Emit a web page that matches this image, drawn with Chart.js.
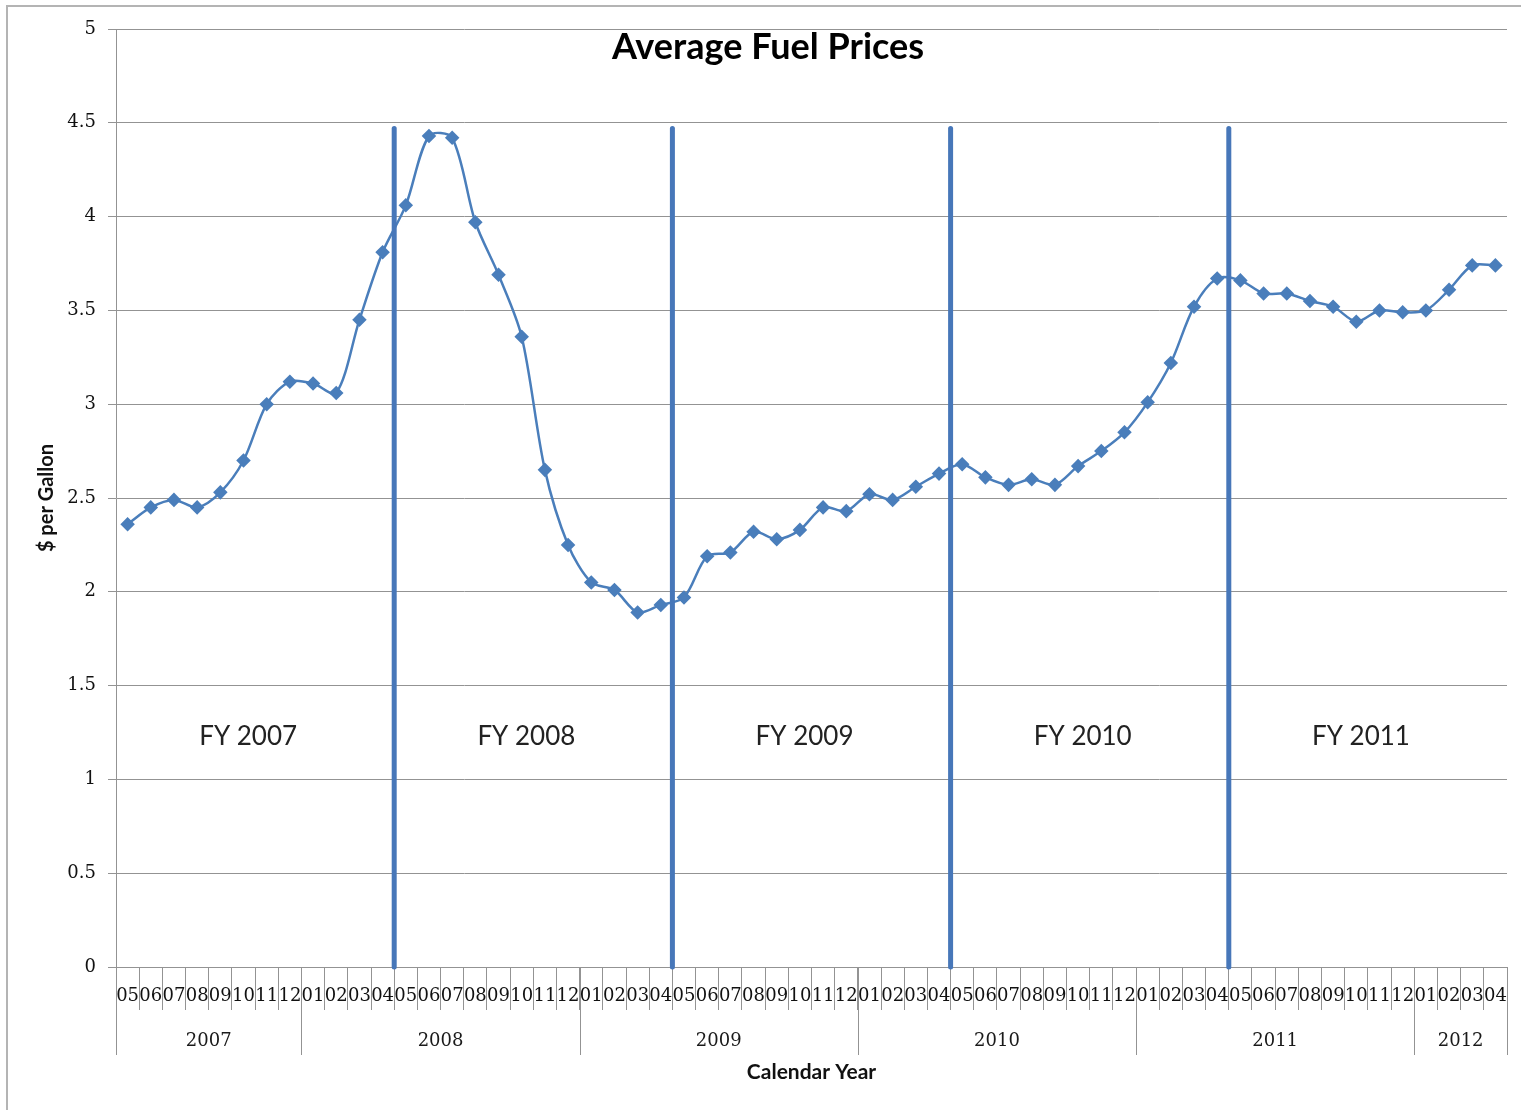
<!DOCTYPE html>
<html>
<head>
    <title>Average Fuel Prices</title>
    <script src="https://cdn.jsdelivr.net/npm/chart.js"></script>
    <style>
        body { margin: 0; background: #fff; }
        .wrap { position: relative; width: 1521px; height: 1110px; }
    </style>
</head>
<body>
<div class="wrap">
    <canvas id="fuelChart" width="1521" height="1110"></canvas>
</div>
<script>
// months on the category axis, May 2007 .. Apr 2012
const months = [
    '05','06','07','08','09','10','11','12',
    '01','02','03','04','05','06','07','08','09','10','11','12',
    '01','02','03','04','05','06','07','08','09','10','11','12',
    '01','02','03','04','05','06','07','08','09','10','11','12',
    '01','02','03','04','05','06','07','08','09','10','11','12',
    '01','02','03','04'
];
const years = ['2007', '2008', '2009', '2010', '2011', '2012'];

// average price, $ per gallon
const prices = [
    2.36, 2.45, 2.49, 2.45, 2.53, 2.70, 3.00, 3.12,
    3.11, 3.06, 3.45, 3.81, 4.06, 4.43, 4.42, 3.97, 3.69, 3.36, 2.65, 2.25,
    2.05, 2.01, 1.89, 1.93, 1.97, 2.19, 2.21, 2.32, 2.28, 2.33, 2.45, 2.43,
    2.52, 2.49, 2.56, 2.63, 2.68, 2.61, 2.57, 2.60, 2.57, 2.67, 2.75, 2.85,
    3.01, 3.22, 3.52, 3.67, 3.66, 3.59, 3.59, 3.55, 3.52, 3.44, 3.50, 3.49,
    3.50, 3.61, 3.74, 3.74
];

const fyLabels = ['FY 2007', 'FY 2008', 'FY 2009', 'FY 2010', 'FY 2011'];
const fyLineTop = 4.47;   // where the fiscal year markers stop
const fyLabelLevel = 1.23;

// fiscal years start in May, calendar years in January
const fyStarts = months.map((m, i) => (m === '05' && i > 0) ? i : -1).filter(i => i > 0);
const yearStarts = [0, ...months.map((m, i) => (m === '01') ? i : -1).filter(i => i > 0), months.length];

const blue = '#4a7ebb';
const gridGray = '#939393';
const serif = '"DejaVu Serif", serif';
const sans = 'Lato, "Open Sans", sans-serif';

const decorations = {
    id: 'decorations',
    beforeDraw(chart) {
        const ctx = chart.ctx;
        ctx.save();
        ctx.strokeStyle = '#b4b4b4';
        ctx.lineWidth = 2;
        ctx.beginPath();
        ctx.moveTo(7, chart.height);
        ctx.lineTo(7, 6);
        ctx.lineTo(chart.width, 6);
        ctx.stroke();
        ctx.restore();
    },
    afterDatasetsDraw(chart) {
        const { ctx, scales: { x, y } } = chart;
        ctx.save();
        // fiscal year separators
        ctx.strokeStyle = '#4777b9';
        ctx.lineWidth = 5;
        ctx.lineCap = 'round';
        fyStarts.forEach(i => {
            const px = x.getPixelForValue(i - 0.5);
            ctx.beginPath();
            ctx.moveTo(px, y.getPixelForValue(0));
            ctx.lineTo(px, y.getPixelForValue(fyLineTop));
            ctx.stroke();
        });
        // fiscal year labels
        const bounds = [0, ...fyStarts, months.length];
        ctx.fillStyle = '#222';
        ctx.font = '26px ' + sans;
        ctx.textAlign = 'center';
        ctx.textBaseline = 'middle';
        fyLabels.forEach((lbl, k) => {
            const mid = (bounds[k] + bounds[k + 1]) / 2 - 0.8;
            ctx.fillText(lbl, x.getPixelForValue(mid), y.getPixelForValue(fyLabelLevel));
        });
        ctx.restore();
    },
    afterDraw(chart) {
        const { ctx, scales: { x, y } } = chart;
        const base = y.getPixelForValue(0);
        ctx.save();
        // calendar year row
        ctx.strokeStyle = gridGray;
        ctx.lineWidth = 1;
        yearStarts.forEach(b => {
            const px = Math.round(x.getPixelForValue(b - 0.5)) + 0.5;
            ctx.beginPath();
            ctx.moveTo(px, base);
            ctx.lineTo(px, base + 88);
            ctx.stroke();
        });
        ctx.fillStyle = '#1a1a1a';
        ctx.font = '18px ' + serif;
        ctx.textAlign = 'center';
        ctx.textBaseline = 'middle';
        years.forEach((yr, k) => {
            const mid = (yearStarts[k] + yearStarts[k + 1]) / 2 - 0.5;
            ctx.fillText(yr, x.getPixelForValue(mid), base + 74);
        });
        // titles
        ctx.font = 'bold 36px ' + sans;
        ctx.fillStyle = '#000';
        ctx.fillText('Average Fuel Prices', 768, 47);
        ctx.font = 'bold 21px ' + sans;
        ctx.fillStyle = '#111';
        ctx.fillText('Calendar Year', (x.left + x.right) / 2, 1072);
        ctx.font = 'bold 20px ' + sans;
        ctx.translate(47, (y.top + y.bottom) / 2);
        ctx.rotate(-Math.PI / 2);
        ctx.fillText('$ per Gallon', 0, 0);
        ctx.restore();
    }
};

new Chart(document.getElementById('fuelChart').getContext('2d'), {
    type: 'line',
    data: {
        labels: months,
        datasets: [{
            data: prices,
            borderColor: blue,
            backgroundColor: blue,
            borderWidth: 2.5,
            pointStyle: 'rectRot',
            pointRadius: 5.5,
            pointHoverRadius: 5.5,
            tension: 0.3,
            fill: false
        }]
    },
    options: {
        responsive: false,
        animation: false,
        layout: { padding: { left: 0, top: 29, right: 14, bottom: 0 } },
        plugins: {
            legend: { display: false },
            tooltip: { enabled: false }
        },
        scales: {
            x: {
                offset: true,
                afterFit(scale) { scale.height = 143; },
                grid: {
                    offset: true,
                    drawOnChartArea: false,
                    color: gridGray,
                    tickLength: 43
                },
                border: { display: true, color: gridGray },
                ticks: {
                    autoSkip: false,
                    maxRotation: 0,
                    padding: -24,
                    color: '#111',
                    font: { family: serif, size: 18 }
                }
            },
            y: {
                min: 0,
                max: 5,
                afterFit(scale) { scale.width = 116; },
                grid: { color: gridGray, tickLength: 8 },
                border: { display: true, color: gridGray },
                ticks: {
                    stepSize: 0.5,
                    padding: 12,
                    color: '#111',
                    font: { family: serif, size: 18 },
                    callback: v => String(v)
                }
            }
        }
    },
    plugins: [decorations]
});
</script>
</body>
</html>
